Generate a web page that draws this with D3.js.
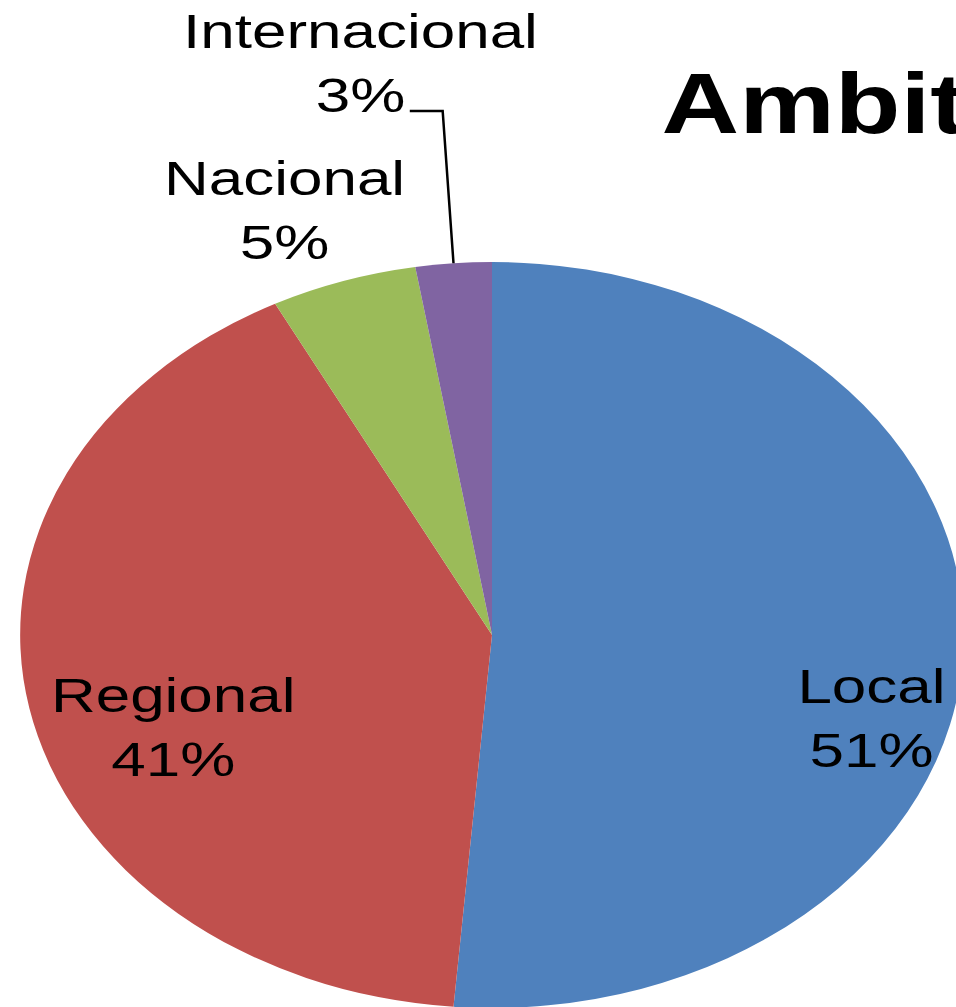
<!DOCTYPE html>
<html>
<head>
<meta charset="utf-8">
<script src="https://cdn.jsdelivr.net/npm/d3@7"></script>
<style>
  html, body { margin: 0; padding: 0; background: #fff; overflow: hidden; }
  svg { display: block; }
</style>
</head>
<body>
<script>
// Data
const categories = ["Local", "Regional", "Nacional", "Internacional"];
const values = [51.3, 41.1, 5.0, 2.6];
const colors = ["#4F81BD", "#C0504D", "#9BBB59", "#8064A2"];
const title = "Ambito";

const W = 956, H = 1007;
const cx = 492, cy = 635, r = 373, sx = 1.265;

const svg = d3.select("body").append("svg")
  .attr("width", W).attr("height", H);

const g = svg.append("g")
  .attr("transform", `translate(${cx},${cy}) scale(${sx},1)`);

const data = categories.map((c, i) => ({ name: c, value: values[i], color: colors[i] }));
const total = d3.sum(values);

const pie = d3.pie().sort(null).value(d => d.value);
const arcs = pie(data);
const arc = d3.arc().innerRadius(0).outerRadius(r);

g.selectAll("path.slice").data(arcs).enter().append("path")
  .attr("class", "slice")
  .attr("d", arc)
  .attr("fill", d => d.data.color);

const pct = d3.format(".0%");
const fontFamily = "'Liberation Sans', Arial, sans-serif";
const fs = 49, lh = 64;

// label positions (unstretched, relative to center): [x, baselineY of first line]
const labelPos = {
  "Local": [300, 68],
  "Regional": [-252, 77],
  "Nacional": [-164, -440],
  "Internacional": [-104, -587]
};

arcs.forEach(a => {
  const [lx, ly] = labelPos[a.data.name];
  const t = g.append("text")
    .attr("text-anchor", "middle")
    .attr("font-family", fontFamily)
    .attr("font-size", fs)
    .attr("fill", "#000");
  t.append("tspan").attr("x", lx).attr("y", ly).text(a.data.name);
  t.append("tspan").attr("x", lx).attr("y", ly + lh).text(pct(a.data.value / total));
});

// leader line for Internacional
const intl = arcs[3];
const mid = (intl.startAngle + intl.endAngle) / 2;
const ex = r * Math.sin(mid), ey = -r * Math.cos(mid);
g.append("path")
  .attr("d", d3.line()([[-65, -524], [-39, -524], [ex, ey]]))
  .attr("fill", "none")
  .attr("stroke", "#000")
  .attr("stroke-width", 2.5)
  .attr("vector-effect", "non-scaling-stroke");

// title
g.append("text")
  .attr("x", 134).attr("y", -502)
  .attr("font-family", fontFamily)
  .attr("font-weight", "bold")
  .attr("font-size", 85)
  .attr("fill", "#000")
  .text(title);
</script>
</body>
</html>
